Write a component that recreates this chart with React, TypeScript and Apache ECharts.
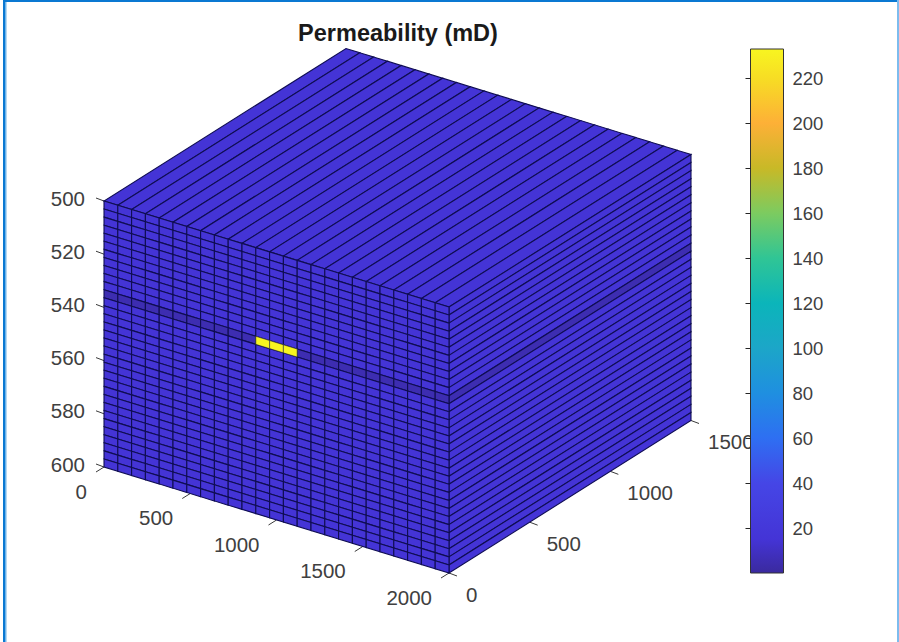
import React, { useEffect, useRef } from "react";
import * as echarts from "echarts";

const TITLE = "Permeability (mD)";
const FONT = '"Liberation Sans", Arial, sans-serif';

// Model extents
const xRange = [0, 2000];
const yRange = [0, 1500];
const zRange = [500, 600];

// Grid columns along x (edges in metres)
const xEdges = [0, 80, 160, 240, 320, 400, 480, 560, 640, 720, 800, 880, 960, 1040, 1120, 1200, 1280, 1360, 1440, 1520, 1600, 1680, 1760, 1840, 1920, 2000];

// Permeability of each layer, top to bottom (mD)
const layerPerm = [15, 15, 15, 15, 15, 15, 15, 15, 15, 15, 15, 5, 15, 15, 15, 15, 15, 15, 15, 15, 15, 15, 15, 15, 15, 15, 15, 15, 15, 15, 15, 15, 15];

// High permeability streak
const streakLayer = 11;
const streakColumns = [11, 12, 13];
const streakPerm = 233;

// Tick labels
const xTicks = [0, 500, 1000, 1500, 2000];
const yTicks = [0, 500, 1000, 1500];
const zTicks = [500, 520, 540, 560, 580, 600];

// Colour bar (value, colour)
const cbValues = [0, 15, 40, 60, 80, 100, 120, 140, 160, 180, 200, 220, 233];
const cbColors = ["#3a2a9e", "#4434d6", "#4546e6", "#2e6ff2", "#1f8fe0", "#1ca6c8", "#0bb5ba", "#30c595", "#7ccb60", "#c8b927", "#fdb037", "#f7dd24", "#f8f520"];
const cbMax = 233;

function hexToRgb(h: string) {
  return [parseInt(h.slice(1, 3), 16), parseInt(h.slice(3, 5), 16), parseInt(h.slice(5, 7), 16)];
}
function colorOf(v: number) {
  for (let i = 1; i < cbValues.length; i++) {
    if (v <= cbValues[i]) {
      const t = (v - cbValues[i - 1]) / (cbValues[i] - cbValues[i - 1]);
      const a = hexToRgb(cbColors[i - 1]);
      const b = hexToRgb(cbColors[i]);
      return `rgb(${a.map((c, k) => Math.round(c + (b[k] - c) * t)).join(",")})`;
    }
  }
  return cbColors[cbColors.length - 1];
}

// Orthographic projection of the MATLAB view onto the page plane
function project(x: number, y: number, z: number): [number, number] {
  const fx = x / xRange[1];
  const fy = y / yRange[1];
  const fz = (z - zRange[0]) / (zRange[1] - zRange[0]);
  return [104 + 345 * fx + 242 * fy, 201 + 106 * fx - 152.5 * fy + 266 * fz];
}

const nz = layerPerm.length;
const zEdge = (i: number) => zRange[0] + ((zRange[1] - zRange[0]) * i) / nz;

const frontData: number[][] = [];
layerPerm.forEach((p, iz) => {
  for (let ix = 0; ix < xEdges.length - 1; ix++) {
    const v = iz === streakLayer && streakColumns.includes(ix) ? streakPerm : p;
    frontData.push([ix, iz, v]);
  }
});
const sideData = layerPerm.map((p, iz) => [iz, p]);
const topData = xEdges.slice(0, -1).map((_, ix) => [ix, layerPerm[0]]);

const EDGE = "#0f0d52";
const TICK = "#3a3a3a";
const LABEL = "#404040";
const AXIS_FONT = 20.5;

function poly(api: any, pts: [number, number][], v: number) {
  return {
    type: "polygon",
    z2: v > 100 ? 5 : 1,
    shape: { points: pts.map((p) => api.coord(p)) },
    style: { fill: colorOf(v), stroke: v > 100 ? "#2a2a40" : EDGE, lineWidth: v > 100 ? 0.6 : 1.1 },
  };
}

function tickItem(api: any, p: [number, number], dx: number, dy: number, label: string, lx: number, ly: number, align: string) {
  const a = api.coord(p);
  return {
    type: "group",
    children: [
      { type: "line", shape: { x1: a[0], y1: a[1], x2: a[0] + dx, y2: a[1] + dy }, style: { stroke: TICK, lineWidth: 1 } },
      {
        type: "text",
        style: {
          text: label,
          x: a[0] + lx,
          y: a[1] + ly,
          align,
          verticalAlign: "middle",
          fontSize: AXIS_FONT,
          fontFamily: FONT,
          fill: LABEL,
        },
      },
    ],
  };
}

const pageAxes = { type: "value", show: false, min: 0 };

export default function App() {
  const ref = useRef<HTMLDivElement>(null);
  useEffect(() => {
    document.body.style.margin = "0";
    const chart = echarts.init(ref.current!, undefined, { renderer: "svg" });
    const base = { type: "custom", coordinateSystem: "cartesian2d", xAxisIndex: 0, yAxisIndex: 0, clip: false, silent: true };
    chart.setOption({
      animation: false,
      backgroundColor: "#ffffff",
      title: {
        text: TITLE,
        left: 393,
        top: 16,
        textAlign: "center",
        textStyle: { fontFamily: FONT, fontSize: 23.5, fontWeight: "bold", color: "#1a1a1a" },
      },
      grid: [
        { left: 0, top: 0, width: 899, height: 642 },
        { left: 750.5, top: 49, width: 33, height: 524 },
      ],
      xAxis: [
        { ...pageAxes, max: 899, gridIndex: 0 },
        { type: "value", show: false, min: 0, max: 1, gridIndex: 1 },
      ],
      yAxis: [
        { ...pageAxes, max: 642, inverse: true, gridIndex: 0 },
        {
          type: "value",
          gridIndex: 1,
          min: 0,
          max: cbMax,
          interval: 20,
          position: "right",
          z: 8,
          axisLine: { show: false },
          splitLine: { show: false },
          axisTick: { show: true, inside: true, length: 5, lineStyle: { color: "#262626", width: 1 } },
          axisLabel: { showMinLabel: false, showMaxLabel: false, fontFamily: FONT, fontSize: 18.5, color: LABEL, margin: 9 },
        },
      ],
      series: [
        {
          ...base,
          name: "top",
          z: 2,
          data: topData,
          renderItem: (_: any, api: any) => {
            const i = api.value(0);
            const a = xEdges[i];
            const b = xEdges[i + 1];
            return poly(api, [project(a, 0, 500), project(b, 0, 500), project(b, 1500, 500), project(a, 1500, 500)], api.value(1));
          },
        },
        {
          ...base,
          name: "side",
          z: 2,
          data: sideData,
          renderItem: (_: any, api: any) => {
            const i = api.value(0);
            const a = zEdge(i);
            const b = zEdge(i + 1);
            return poly(api, [project(2000, 0, a), project(2000, 1500, a), project(2000, 1500, b), project(2000, 0, b)], api.value(1));
          },
        },
        {
          ...base,
          name: "front",
          z: 3,
          data: frontData,
          renderItem: (_: any, api: any) => {
            const ix = api.value(0);
            const iz = api.value(1);
            const a = xEdges[ix];
            const b = xEdges[ix + 1];
            const c = zEdge(iz);
            const d = zEdge(iz + 1);
            return poly(api, [project(a, 0, c), project(b, 0, c), project(b, 0, d), project(a, 0, d)], api.value(2));
          },
        },
        {
          ...base,
          name: "xTicks",
          z: 2,
          data: xTicks.map((v) => [v]),
          renderItem: (_: any, api: any) => {
            const v = api.value(0);
            return tickItem(api, project(v, 0, 600), -8, 5, String(v), -17, 24, "right");
          },
        },
        {
          ...base,
          name: "yTicks",
          z: 2,
          data: yTicks.map((v) => [v]),
          renderItem: (_: any, api: any) => {
            const v = api.value(0);
            return tickItem(api, project(2000, v, 600), 8, 3, String(v), 17, 21, "left");
          },
        },
        {
          ...base,
          name: "zTicks",
          z: 2,
          data: zTicks.map((v) => [v]),
          renderItem: (_: any, api: any) => {
            const v = api.value(0);
            return tickItem(api, project(0, 0, v), -8, -3, String(v), -19, -3, "right");
          },
        },
        {
          type: "custom",
          name: "colorbar",
          coordinateSystem: "cartesian2d",
          xAxisIndex: 1,
          yAxisIndex: 1,
          clip: false,
          silent: true,
          z: 6,
          data: [[0, cbMax]],
          renderItem: (_: any, api: any) => {
            const a = api.coord([0, cbMax]);
            const b = api.coord([1, 0]);
            return {
              type: "rect",
              shape: { x: a[0], y: a[1], width: b[0] - a[0], height: b[1] - a[1] },
              style: {
                fill: new echarts.graphic.LinearGradient(
                  0,
                  0,
                  0,
                  1,
                  cbValues.map((v, i) => ({ offset: 1 - v / cbMax, color: cbColors[i] })).reverse()
                ),
                stroke: "#333333",
                lineWidth: 1,
              },
            };
          },
        },
      ],
      graphic: [
        { type: "rect", silent: true, z: 20, shape: { x: 3, y: 0, width: 895, height: 2 }, style: { fill: "#0a78d2" } },
        { type: "rect", silent: true, z: 20, shape: { x: 3, y: 0, width: 2, height: 642 }, style: { fill: "#0a78d2" } },
        { type: "rect", silent: true, z: 20, shape: { x: 5, y: 2, width: 1.5, height: 640 }, style: { fill: "#6db3ea" } },
        { type: "rect", silent: true, z: 20, shape: { x: 897, y: 0, width: 2, height: 642 }, style: { fill: "#7dbcee" } },
      ],
    });
    return () => chart.dispose();
  }, []);
  return <div ref={ref} style={{ width: 899, height: 642 }} />;
}
